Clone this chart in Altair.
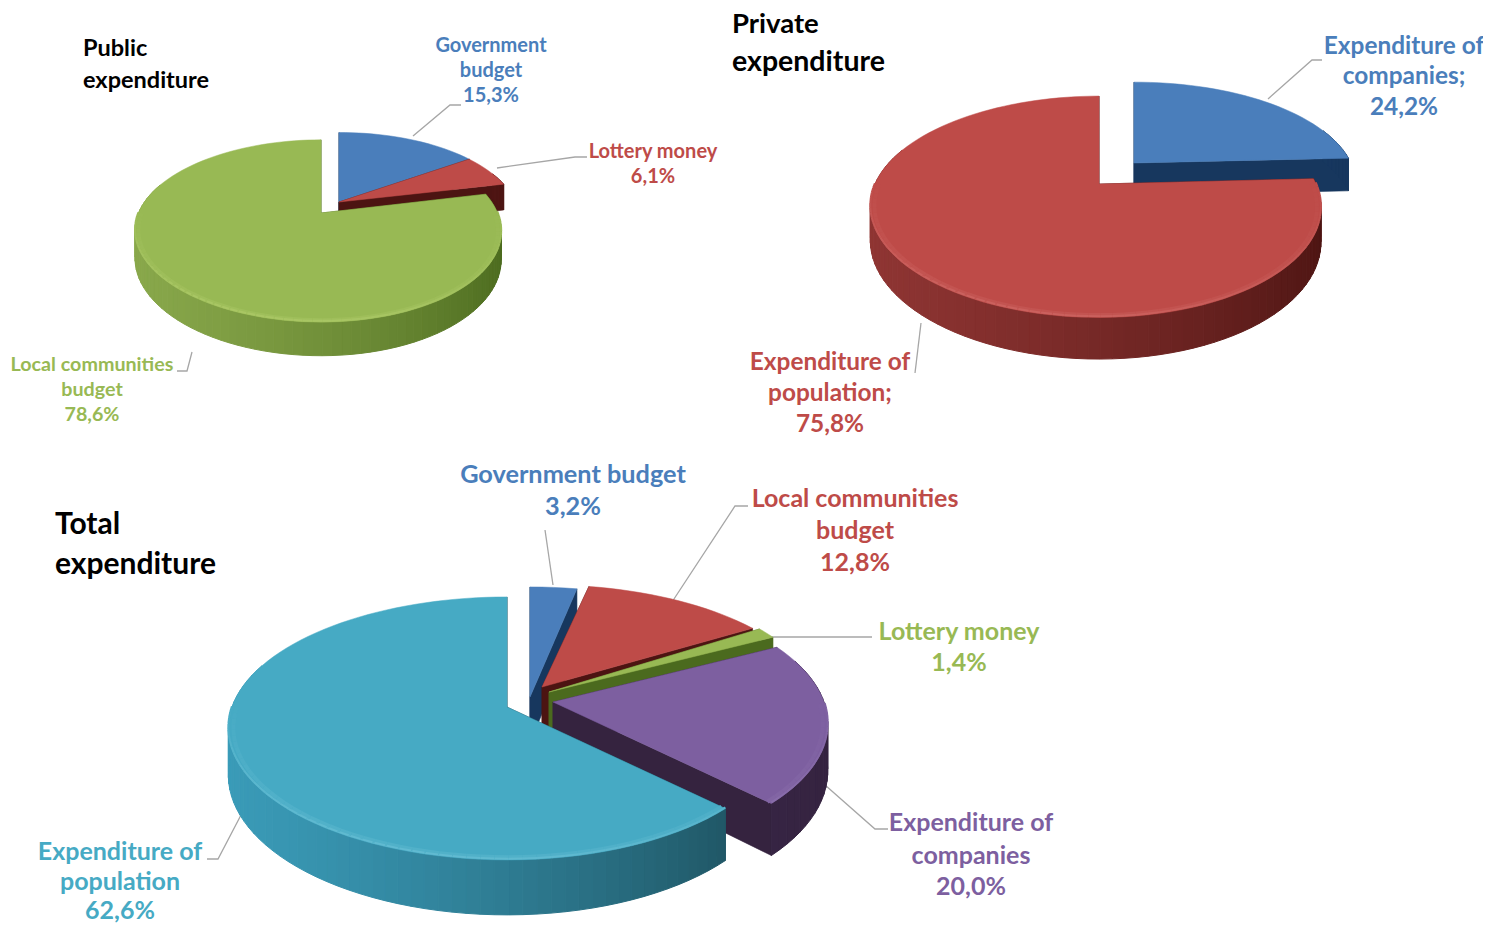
import math
import altair as alt

# ---- values ----
public_names = ["Government budget", "Lottery money", "Local communities budget"]
public_values = [15.3, 6.1, 78.6]
private_names = ["Expenditure of companies", "Expenditure of population"]
private_values = [24.2, 75.8]
total_names = ["Government budget", "Local communities budget", "Lottery money",
               "Expenditure of companies", "Expenditure of population"]
total_values = [3.2, 12.8, 1.4, 20.0, 62.6]

BLUE = ("#4a7ebb", "#1f4470", "#17375e", "#6d9bd0")
RED = ("#be4b48", "#8f3533", "#4c1412", "#d4716e")
GREEN = ("#98b954", "#89a84b", "#4b6a1e", "#b5d070")
PURPLE = ("#7d5fa0", "#3c2a55", "#35233f", "#9f86bd")
CYAN = ("#46aac4", "#3a9bb8", "#1a4753", "#74c6da")

# pie geometry: [Rx, Ry, perspective, depth, sideways shift of the widest part]
public_shape = [179.5, 87.6, 0.197, 27, -3]
private_shape = [220.5, 106, 0.206, 33, -3.5]
total_shape = [273, 128, 0.163, 46, -2]
# slice apex x, y and depth-axis stretch
public_apex = [(339, 202, 0.95), (339, 202, 0.95), (321, 213, 1.0)]
private_apex = [(1134, 163, 0.92), (1099, 184, 1.0)]
total_apex = [(530, 697, 1.0), (542, 687, 0.93), (549, 692, 1.0), (553, 702, 1.0), (507, 707, 1.0)]
public_colors = [BLUE, RED, GREEN]
private_colors = [BLUE, RED]
total_colors = [BLUE, RED, GREEN, PURPLE, CYAN]

titles = [("Public", 83, 48.5, 23.5), ("expenditure", 83, 81, 23.5),
          ("Private", 732, 25, 27.5), ("expenditure", 732, 62, 28.5),
          ("Total", 55, 525, 30), ("expenditure", 55, 565, 30)]

labels = [
    ("Government", 491, 46, 20, BLUE), ("budget", 491, 71, 20, BLUE), ("15,3%", 491, 96, 20, BLUE),
    ("Lottery money", 653, 152, 20, RED), ("6,1%", 653, 177, 20, RED),
    ("Local communities", 92, 365, 19.7, GREEN), ("budget", 92, 390, 19.7, GREEN), ("78,6%", 92, 415, 19.7, GREEN),
    ("Expenditure of", 1404, 47, 24.4, BLUE), ("companies;", 1404, 77, 24.4, BLUE), ("24,2%", 1404, 108, 24.4, BLUE),
    ("Expenditure of", 830, 363, 24.4, RED), ("population;", 830, 394, 24.4, RED), ("75,8%", 830, 425, 24.4, RED),
    ("Government budget", 573, 475, 25.3, BLUE), ("3,2%", 573, 507, 25.3, BLUE),
    ("Local communities", 855, 499, 25, RED), ("budget", 855, 531, 25, RED), ("12,8%", 855, 563, 25, RED),
    ("Lottery money", 959, 632, 25, GREEN), ("1,4%", 959, 663, 25, GREEN),
    ("Expenditure of", 971, 823, 25, PURPLE), ("companies", 971, 856, 25, PURPLE), ("20,0%", 971, 887, 25, PURPLE),
    ("Expenditure of", 120, 852, 25, CYAN), ("population", 120, 882, 25, CYAN), ("62,6%", 120, 911, 25, CYAN),
]

leaders = [
    [(413, 136), (450, 105), (461, 105)],
    [(497, 168), (575, 157), (587, 157)],
    [(177, 371), (187, 371), (192, 352)],
    [(1268, 99), (1312, 60), (1322, 60)],
    [(915, 373), (921, 323)],
    [(545, 530), (553, 585)],
    [(672, 602), (735, 506), (748, 506)],
    [(763, 637), (872, 637)],
    [(825, 785), (875, 829), (888, 829)],
    [(207, 859), (218, 859), (241, 815)],
]


def mix(a, b, f):
    ca = [int(a[i:i + 2], 16) for i in (1, 3, 5)]
    cb = [int(b[i:i + 2], 16) for i in (1, 3, 5)]
    return "#%02x%02x%02x" % tuple(round(x + (y - x) * f) for x, y in zip(ca, cb))


def feature(kind, coords, fill, stroke, w):
    return {"type": "Feature",
            "geometry": {"type": kind, "coordinates": coords},
            "properties": {"fill": fill, "stroke": stroke, "w": w}}


def pie_features(values, apexes, colors, shape):
    rx, ry, k, depth, ox = shape
    total = sum(values)
    slices = []
    acc = 0.0
    for v, apex, col in zip(values, apexes, colors):
        slices.append((acc / total * 2 * math.pi, (acc + v) / total * 2 * math.pi, apex, col))
        acc += v

    out = []
    for t0, t1, (ax, ay, stretch), (top, side_l, side_r, light) in slices:
        n = max(3, int((t1 - t0) / math.radians(2.5)))
        ts = [t0 + (t1 - t0) * i / n for i in range(n + 1)]

        def rim(t, drop=0.0, r=1.0):
            u, w = math.sin(t), -math.cos(t)
            s = 1 / (1 - k * w)
            return [ax + r * (rx * u * s + ox * u * u), ay + r * stretch * ry * w * s + drop * s]

        a_top, a_low = [ax, ay], [ax, ay + depth]
        # cut faces
        for t in (t0, t1):
            poly = [a_top, rim(t), rim(t, depth), a_low, a_top]
            out.append(feature("Polygon", [poly], side_r, side_r, 0.6))
        # outer wall, in narrow strips shaded left to right
        for a, b in zip(ts[:-1], ts[1:]):
            if math.cos((a + b) / 2) > 0.35:
                continue
            f = (math.sin((a + b) / 2) + 1) / 2
            c = mix(side_l, side_r, f ** 1.4)
            poly = [rim(a), rim(b), rim(b, depth), rim(a, depth), rim(a)]
            out.append(feature("Polygon", [poly], c, c, 1.0))
        # top surface
        ring = [a_top] + [rim(t) for t in ts] + [a_top]
        out.append(feature("Polygon", [ring], top, top, 0.5))
        # soft bevel along the front rim, fading out towards the sides
        for a, b in zip(ts[:-1], ts[1:]):
            m = (a + b) / 2
            front = max(0.0, -math.cos(m)) ** 0.7
            left = 0.6 + 0.4 * (1 - math.sin(m)) / 2
            if front <= 0.02:
                continue
            out.append(feature("LineString", [rim(a, 0, 0.982), rim(b, 0, 0.982)], "none",
                               mix(top, light, 0.3 * front * left), 4))
            out.append(feature("LineString", [rim(a, -1), rim(b, -1)], "none",
                               mix(top, light, 0.7 * front * left), 2))
    return out


features = (pie_features(public_values, public_apex, public_colors, public_shape)
            + pie_features(private_values, private_apex, private_colors, private_shape)
            + pie_features(total_values, total_apex, total_colors, total_shape))
features_lines = [feature("LineString", [list(p) for p in line], "none", "#a6a6a6", 1.3) for line in leaders]


def geo_layer(feats):
    data = alt.InlineData(values={"type": "FeatureCollection", "features": feats},
                          format=alt.DataFormat(type="json", property="features"))
    return alt.Chart(data).mark_geoshape().encode(
        fill=alt.Fill("properties.fill:N", scale=None),
        stroke=alt.Stroke("properties.stroke:N", scale=None),
        strokeWidth=alt.StrokeWidth("properties.w:Q", scale=None),
    )


text_rows = [{"t": t, "x": x, "y": y, "s": s, "c": c[0]} for t, x, y, s, c in labels]
title_rows = [{"t": t, "x": x, "y": y, "s": s, "c": "#000000"} for t, x, y, s in titles]


def text_layer(rows, align):
    return alt.Chart(alt.Data(values=rows)).mark_text(
        font="Lato", fontWeight="bold", align=align, baseline="middle"
    ).encode(
        longitude="x:Q", latitude="y:Q", text="t:N",
        size=alt.Size("s:Q", scale=None),
        color=alt.Color("c:N", scale=None),
    )


chart = alt.layer(
    geo_layer(features_lines),
    geo_layer(features),
    text_layer(text_rows, "center"),
    text_layer(title_rows, "left"),
).project(type="identity", scale=1, translate=[-8, -8]).properties(
    width=1475, height=918, padding=0, background="#ffffff",
    autosize=alt.AutoSizeParams(type="none"),
).configure_view(stroke=None)

chart.save("out.html", embed_options={"renderer": "svg", "actions": False})
